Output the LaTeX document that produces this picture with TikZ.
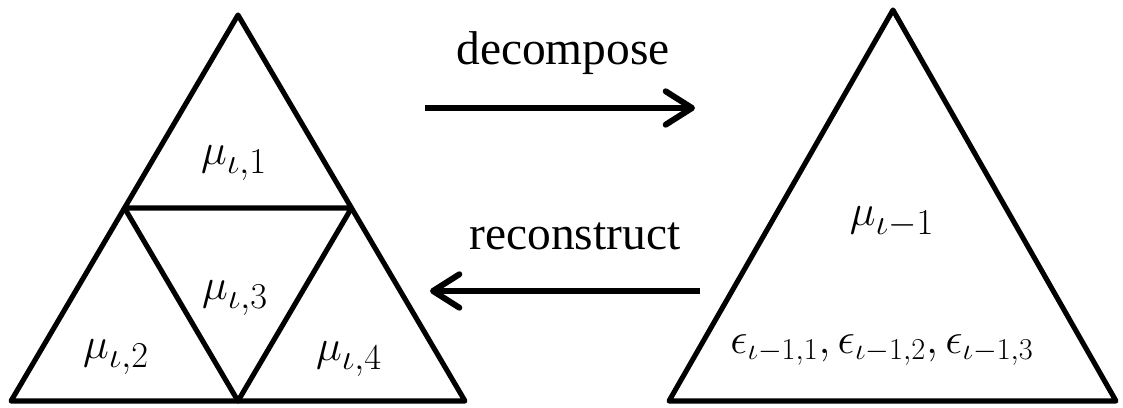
\documentclass[tikz,border=0pt]{standalone}
\usepackage{fontspec}
\setmainfont{Liberation Serif}
\usetikzlibrary{arrows.meta, positioning, calc}
\DeclareMathSizes{28}{28}{21}{16}
\DeclareMathSizes{26}{26}{19}{15}

\begin{document}
\begin{tikzpicture}[x=0.02cm, y=-0.02cm,
  tri/.style={draw, line width=2.9pt, line join=round},
  lbl/.style={font=\fontsize{28}{32}\selectfont, inner sep=0pt},
  err/.style={font=\fontsize{26}{30}\selectfont, inner sep=0pt},
  word/.style={font=\fontsize{27}{32}\selectfont, inner sep=0pt, anchor=base},
  flow/.style={line width=3.4pt, -{Straight Barb[length=15pt, width=19pt, round]}}
]
\useasboundingbox (0,0) rectangle (1123,408);
% fine level
\coordinate (a) at (238,15);
\coordinate (b) at (11,401);
\coordinate (c) at (465,401);
\coordinate (ab) at ($(a)!0.5!(b)$);
\coordinate (bc) at ($(b)!0.5!(c)$);
\coordinate (ca) at ($(c)!0.5!(a)$);
\draw[tri] (a) -- (b) -- (c) -- cycle;
\draw[tri] (ab) -- (bc) -- (ca) -- cycle;
\node[lbl] (m1) at (234,163) {$\mu_{\iota,1}$};
\node[lbl] (m2) at (116,357) {$\mu_{\iota,2}$};
\node[lbl] (m3) at (235,298) {$\mu_{\iota,3}$};
\node[lbl] (m4) at (349,359) {$\mu_{\iota,4}$};
% coarse level
\coordinate (p) at (893,10);
\coordinate (q) at (669,401);
\coordinate (r) at (1116,401);
\draw[tri] (p) -- (q) -- (r) -- cycle;
\node[lbl] (m0) at (892,222) {$\mu_{\iota-1}$};
\node[err] (e0) at (882,350) {$\epsilon_{\iota-1,1},\epsilon_{\iota-1,2},\epsilon_{\iota-1,3}$};
% arrows
\coordinate (d1) at (425,108);
\coordinate (d2) at (695,108);
\coordinate (r1) at (700,291);
\coordinate (r2) at (430,291);
\draw[flow] (d1) -- (d2);
\draw[flow] (r1) -- (r2);
\node[word] (dec) at (563,65) {decompose};
\node[word] (rec) at (575,250) {reconstruct};
\end{tikzpicture}
\end{document}
